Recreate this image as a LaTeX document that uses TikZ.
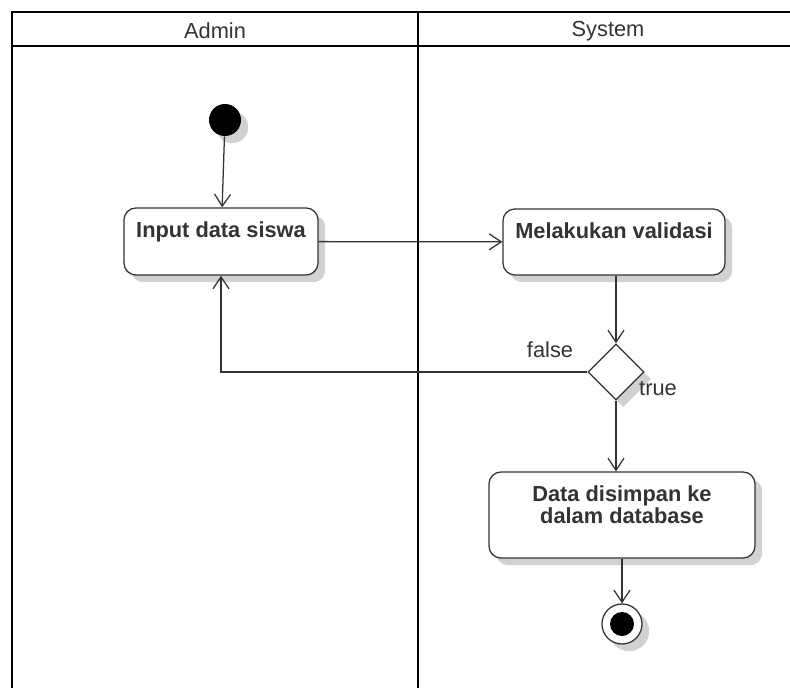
\documentclass[tikz,border=0pt]{standalone}
\usepackage{fontspec}
\setmainfont{Liberation Sans}
\usetikzlibrary{arrows.meta,shapes.geometric,shadows}

\begin{document}
\begin{tikzpicture}[
  x=0.025cm, y=-0.025cm,
  font=\fontsize{15.5}{16}\selectfont,
  text=black!80,
  shadowed/.style={drop shadow={shadow xshift=0.18cm,shadow yshift=-0.18cm,fill=black!18,opacity=1}},
  lane/.style={line width=1.6pt,black},
  flow/.style={->,line width=0.9pt,draw=black!80},
  act/.style={draw=black!80,line width=0.9pt,rounded corners=0.3cm,fill=white,shadowed},
  acttext/.style={anchor=north,yshift=-0.24cm,font=\fontsize{15.5}{15.8}\selectfont\bfseries,align=center,text=black!80},
  >={Straight Barb[length=3mm,width=4mm]}
]
\useasboundingbox (0,0) rectangle (790,688);
% ---- swimlanes ----
\draw[lane] (790,12) -- (12,12) -- (12,688);
\draw[lane] (12,46) -- (790,46);
\draw[lane] (418,12) -- (418,688);
\node (admin) at (215,31) {Admin};
\node (system) at (608,31) {System};
% ---- admin ----
\node[circle,fill=black,minimum size=0.8cm,inner sep=0,shadowed] (start) at (225,120) {};
\node[act,minimum width=4.85cm,minimum height=1.675cm,label={[acttext]north:Input data siswa}] (input) at (221,241.5) {};
% ---- system ----
\node[act,minimum width=5.55cm,minimum height=1.65cm,label={[acttext]north:Melakukan validasi}] (valid) at (614,242) {};
\node[diamond,draw=black!80,fill=white,line width=0.9pt,minimum size=1.4cm,inner sep=0,shadowed] (check) at (616,372) {};
\node (lfalse) at (550,350) {false};
\node (ltrue) at (658,389) {true};
\node[act,minimum width=6.65cm,minimum height=2.15cm,label={[acttext]north:Data disimpan ke\\dalam database}] (data) at (622,515) {};
\node[circle,draw=black!80,fill=white,line width=0.9pt,minimum size=1cm,inner sep=0,shadowed] (stop) at (622,624) {};
\node[circle,fill=black,minimum size=0.6cm,inner sep=0] (stopdot) at (stop) {};
% ---- flows ----
\draw[flow] (start) -- (input);
\draw[flow] (input) -- (valid);
\draw[flow] (valid.south -| check) -- (check.north);
\draw[flow] (check.west) -| (input.south);
\draw[flow] (check.south) -- (check.south |- data.north);
\draw[flow] (data) -- (stop);
\end{tikzpicture}
\end{document}
